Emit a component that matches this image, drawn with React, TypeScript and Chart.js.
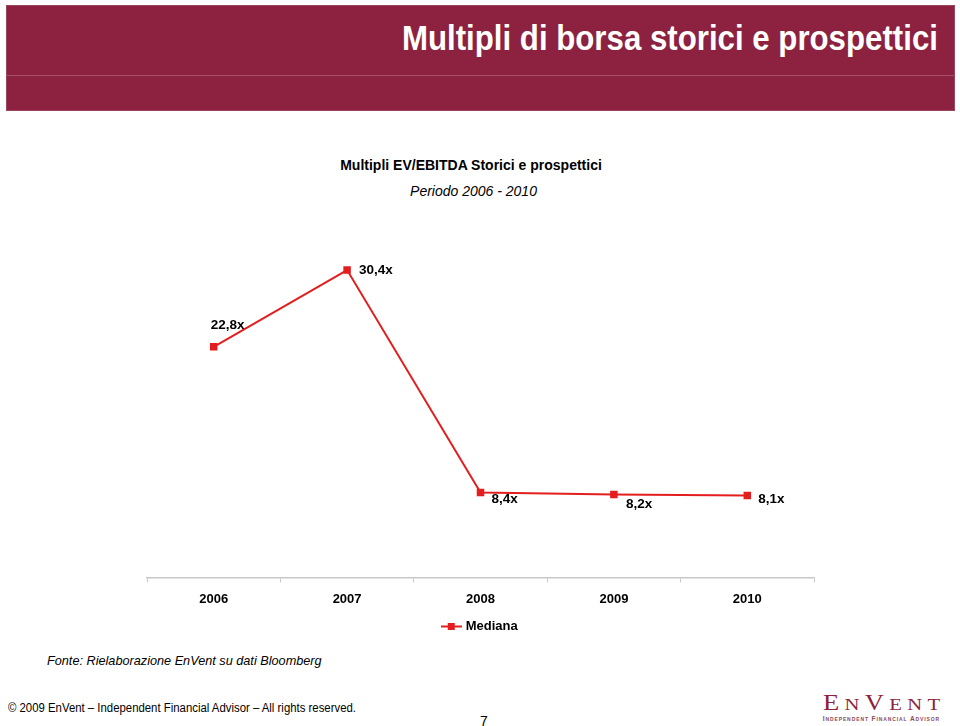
import React, { useEffect, useRef } from "react";
import { Chart, registerables } from "chart.js";

Chart.register(...registerables);

// ---- data ----
const years = ["2006", "2007", "2008", "2009", "2010"];
const mediana = [22.8, 30.4, 8.4, 8.2, 8.1];
const valueLabels = ["22,8x", "30,4x", "8,4x", "8,2x", "8,1x"];
const seriesName = "Mediana";
const yMin = 0;
const yMax = 35;

// ---- styling (not data) ----
const labelOffsets: [number, number][] = [
  [-3, -22],
  [12, 0],
  [11, 7],
  [12, 10],
  [11, 3.5],
];
const RED = "#E41E1E";
const MAROON = "#8C2140";
const SANS = "'Liberation Sans', Arial, Helvetica, sans-serif";
const SERIF = "'Liberation Serif', 'Times New Roman', serif";
const CANVAS_H = 443;

const valueLabelPlugin = {
  id: "valueLabels",
  afterDatasetsDraw(chart: any) {
    const meta = chart.getDatasetMeta(0);
    const ctx = chart.ctx;
    ctx.save();
    ctx.font = `bold 13.5px ${SANS}`;
    ctx.fillStyle = "#000";
    ctx.textAlign = "left";
    ctx.textBaseline = "middle";
    meta.data.forEach((pt: any, i: number) => {
      const [dx, dy] = labelOffsets[i];
      ctx.fillText(valueLabels[i], pt.x + dx, pt.y + dy);
    });
    ctx.restore();
  },
};

function makeLegendIcon(): HTMLCanvasElement {
  const c = document.createElement("canvas");
  c.width = 21;
  c.height = 7;
  const g = c.getContext("2d")!;
  g.fillStyle = RED;
  g.fillRect(0, 2.5, 21, 2);
  g.fillRect(7, 0, 7, 7);
  return c;
}

function LineChart() {
  const ref = useRef<HTMLCanvasElement>(null);
  useEffect(() => {
    if (!ref.current) return;
    const icon = makeLegendIcon();
    const chart = new Chart(ref.current, {
      type: "line",
      data: {
        labels: years,
        datasets: [
          {
            label: seriesName,
            data: mediana,
            borderColor: RED,
            backgroundColor: RED,
            borderWidth: 2,
            pointStyle: "rect",
            pointRadius: 5.3,
            pointBorderWidth: 0,
            pointBackgroundColor: RED,
            tension: 0,
          },
        ],
      },
      options: {
        responsive: false,
        animation: false,
        devicePixelRatio: 1,
        layout: { padding: { left: 47, right: 46, top: 23.5, bottom: 0 } },
        scales: {
          x: {
            offset: true,
            grid: {
              offset: true,
              drawOnChartArea: false,
              drawTicks: true,
              tickLength: 5,
              color: "#c8c8c8",
            },
            border: { display: true, color: "#c8c8c8", width: 1.5 },
            ticks: {
              color: "#000",
              padding: 9,
              font: { family: SANS, size: 13, weight: "bold" },
            },
          },
          y: {
            display: false,
            min: yMin,
            max: yMax,
          },
        },
        plugins: {
          legend: {
            display: true,
            position: "bottom",
            labels: {
              usePointStyle: true,
              pointStyle: icon as any,
              pointStyleWidth: 16,
              padding: 4,
              color: "#000",
              font: { family: SANS, size: 13, weight: "bold" },
              generateLabels: () => [
                {
                  text: seriesName,
                  pointStyle: icon,
                  fillStyle: RED,
                  strokeStyle: RED,
                  lineWidth: 0,
                  datasetIndex: 0,
                  hidden: false,
                  fontColor: "#000",
                },
              ],
            },
          },
          title: { display: false },
          tooltip: { enabled: false },
        },
      },
      plugins: [valueLabelPlugin],
    } as any);
    return () => chart.destroy();
  }, []);
  return (
    <canvas
      ref={ref}
      width={760}
      height={CANVAS_H}
      style={{ display: "block", width: 760, height: CANVAS_H }}
    />
  );
}

function Txt(props: {
  left?: number;
  right?: number;
  top: number;
  width?: number;
  size: number;
  bold?: boolean;
  italic?: boolean;
  color?: string;
  align?: "left" | "center" | "right";
  scaleX?: number;
  origin?: string;
  family?: string;
  children: React.ReactNode;
  extra?: React.CSSProperties;
}) {
  const s: React.CSSProperties = {
    position: "absolute",
    top: props.top,
    fontFamily: props.family || SANS,
    fontSize: props.size,
    lineHeight: `${props.size}px`,
    fontWeight: props.bold ? "bold" : "normal",
    fontStyle: props.italic ? "italic" : "normal",
    color: props.color || "#000",
    whiteSpace: "nowrap",
    textAlign: props.align || "left",
    transform: props.scaleX ? `scaleX(${props.scaleX})` : undefined,
    transformOrigin: props.origin || "left",
    ...(props.extra || {}),
  };
  if (props.left !== undefined) s.left = props.left;
  if (props.right !== undefined) s.right = props.right;
  if (props.width !== undefined) s.width = props.width;
  return <div style={s}>{props.children}</div>;
}

export default function App() {
  return (
    <div
      style={{
        position: "absolute",
        left: 0,
        top: 0,
        width: 960,
        height: 726,
        overflow: "hidden",
        background: "#fff",
      }}
    >
      {/* header band */}
      <div
        style={{
          position: "absolute",
          left: 6,
          top: 5,
          width: 949,
          height: 106,
          background: MAROON,
          boxSizing: "border-box",
          border: "1px solid #9b4660",
        }}
      />
      <div style={{ position: "absolute", left: 7, top: 75, width: 947, height: 1, background: "#a4506a" }} />
      <Txt right={22} top={20.4} size={35} bold color="#fff" scaleX={0.892} origin="right">
        Multipli di borsa storici e prospettici
      </Txt>

      {/* chart titles */}
      <Txt left={271} width={400} top={158.2} size={14} bold align="center">
        Multipli EV/EBITDA Storici e prospettici
      </Txt>
      <Txt left={273.5} width={400} top={183.5} size={14} italic align="center">
        Periodo 2006 - 2010
      </Txt>

      {/* chart */}
      <div style={{ position: "absolute", left: 100, top: 200, width: 760, height: CANVAS_H }}>
        <LineChart />
      </div>

      {/* source */}
      <Txt left={47} top={655} size={12.7} italic>
        Fonte: Rielaborazione EnVent su dati Bloomberg
      </Txt>

      {/* footer */}
      <Txt left={8} top={702} size={12.5} scaleX={0.91}>
        © 2009 EnVent – Independent Financial Advisor – All rights reserved.
      </Txt>
      <Txt left={480} top={714} size={14}>
        7
      </Txt>

      {/* logo */}
      <div
        style={{
          position: "absolute",
          left: 822.7,
          top: 692,
          fontFamily: SERIF,
          color: MAROON,
          whiteSpace: "nowrap",
          lineHeight: "22px",
          letterSpacing: 4.5,
          transform: "scaleX(1.18)",
          transformOrigin: "left",
        }}
      >
        <span style={{ fontSize: 22.5 }}>E</span>
        <span style={{ fontSize: 17.5 }}>N</span>
        <span style={{ fontSize: 22.5 }}>V</span>
        <span style={{ fontSize: 17.5 }}>ENT</span>
      </div>
      <Txt
        left={822.7}
        top={716}
        size={6.5}
        color="#8a4a60"
        extra={{ fontVariant: "small-caps", letterSpacing: 0.9, fontWeight: "bold" }}
      >
        Independent Financial Advisor
      </Txt>
    </div>
  );
}
